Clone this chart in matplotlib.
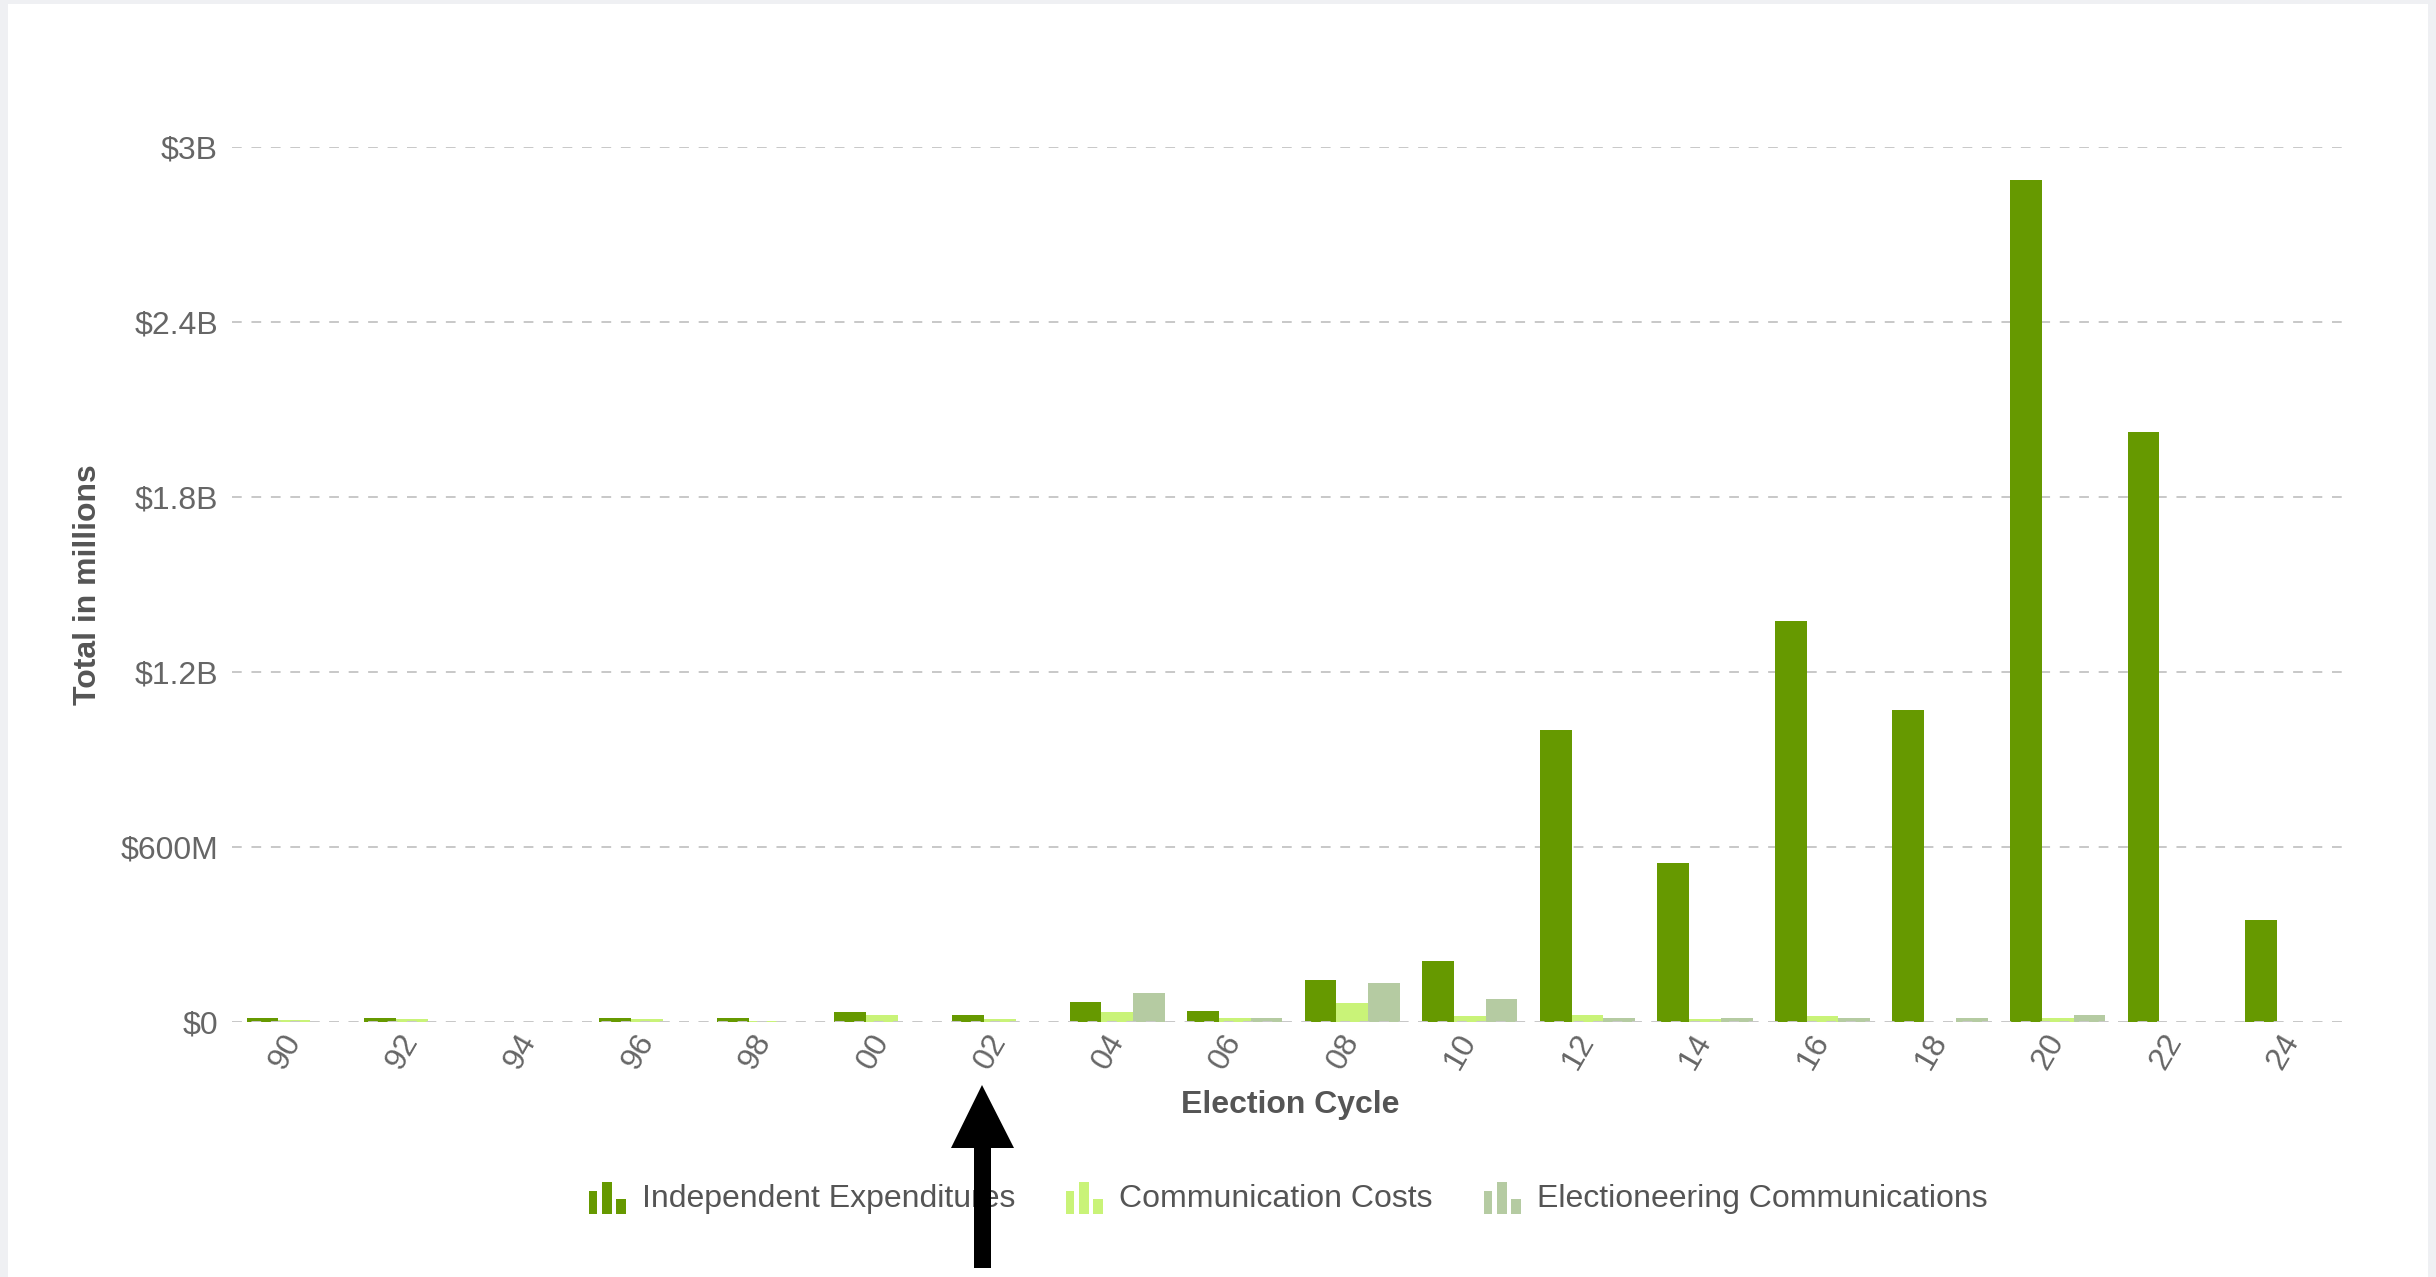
import numpy as np
import matplotlib
matplotlib.use('Agg')
import matplotlib.pyplot as plt
from matplotlib.patches import Rectangle, Polygon
from matplotlib.legend_handler import HandlerBase
from matplotlib.transforms import IdentityTransform

plt.rcParams['font.family'] = ['Liberation Sans', 'DejaVu Sans']

# ---- data (millions of dollars) ----
cycles = ['90', '92', '94', '96', '98', '00', '02', '04', '06',
          '08', '10', '12', '14', '16', '18', '20', '22', '24']
indep_exp = [14, 14, 0, 14, 14, 34, 25, 67, 37,
             145, 210, 1002, 545, 1375, 1069, 2886, 2023, 351]
comm_costs = [8, 10, 0, 10, 3, 24, 11, 33, 14,
              66, 22, 24, 12, 22, 0, 13, 0, 0]
elect_comm = [0, 0, 0, 0, 0, 0, 0, 99, 14,
              133, 78, 15, 14, 15, 14, 25, 0, 0]
series_names = ['Independent Expenditures', 'Communication Costs',
                'Electioneering Communications']
y_ticks = [0, 600, 1200, 1800, 2400, 3000]
y_tick_labels = ['$0', '$600M', '$1.2B', '$1.8B', '$2.4B', '$3B']

COLORS = ['#669900', '#c9f378', '#b5cba2']
W, H = 2436, 1277

fig = plt.figure(figsize=(W / 100, H / 100), dpi=100)
fig.patch.set_facecolor('#eff0f3')
fig.add_artist(Rectangle((8, 0), 2420, 1273, transform=IdentityTransform(),
                         facecolor='white', edgecolor='none', zorder=-10))

ax = fig.add_axes([232 / W, 1 - 1022 / H, 2116 / W, (1022 - 147) / H])
ax.set_facecolor('white')

x = np.arange(len(cycles))
bw = 0.27
for off, vals, c, name in zip([-bw, 0, bw], [indep_exp, comm_costs, elect_comm],
                              COLORS, series_names):
    ax.bar(x + off, vals, bw, color=c, label=name, zorder=2)

ax.set_xlim(-0.53, len(cycles) - 0.53)
ax.set_ylim(0, 3000)
ax.set_yticks(y_ticks)
ax.set_yticklabels(y_tick_labels)
ax.set_xticks(x)
ax.set_xticklabels(cycles, rotation=60, ha='right', va='center',
                   rotation_mode='anchor')
ax.tick_params(axis='y', length=0, pad=10, labelsize=23, labelcolor='#666666')
ax.tick_params(axis='x', length=0, pad=10, labelsize=23, labelcolor='#666666')
for s in ax.spines.values():
    s.set_visible(False)
ax.yaxis.grid(True, color='#c8c8c8', linestyle=(0, (5, 5)), linewidth=1.4)
ax.set_axisbelow(True)
ax.axhline(0, color='#c8c8c8', linestyle=(0, (5, 5)), linewidth=1.4, zorder=3)

ax.text(-0.068, 0.5, 'Total in millions', transform=ax.transAxes, rotation=90,
        ha='center', va='center', fontsize=23, fontweight='bold', color='#555555')
ax.text(0.5, (1022 - 1105) / 875, 'Election Cycle', transform=ax.transAxes,
        ha='center', va='center', fontsize=23, fontweight='bold', color='#555555')


class BarIcon(HandlerBase):
    def create_artists(self, legend, orig, xd, yd, width, height, fontsize, trans):
        c = orig.patches[0].get_facecolor()
        arts = []
        for x0, x1, h in [(0.0, 0.22, 0.7), (0.35, 0.62, 1.0), (0.73, 1.0, 0.45)]:
            r = Rectangle((-xd + x0 * width, -yd - 0.12 * height), (x1 - x0) * width,
                          h * height * 1.12, facecolor=c, edgecolor='none',
                          transform=trans)
            arts.append(r)
        return arts


handles, labels = ax.get_legend_handles_labels()
leg = fig.legend(handles, labels, loc='center', bbox_to_anchor=(1288 / W, 1 - 1198 / H),
                 ncol=3, frameon=False, fontsize=23, handlelength=1.16,
                 handleheight=1.0, handletextpad=0.5, columnspacing=1.6,
                 borderpad=0, handler_map={type(handles[0]): BarIcon()})
for t in leg.get_texts():
    t.set_color('#555555')

# black arrow pointing at the '02' cycle
pts = [(982, 1085), (1014, 1148), (991, 1148), (991, 1268),
       (974, 1268), (974, 1148), (951, 1148)]
fig.add_artist(Polygon([(px, H - py) for px, py in pts], closed=True,
                       transform=IdentityTransform(), facecolor='black',
                       edgecolor='none', zorder=20))

fig.savefig('out.png', dpi=100)
